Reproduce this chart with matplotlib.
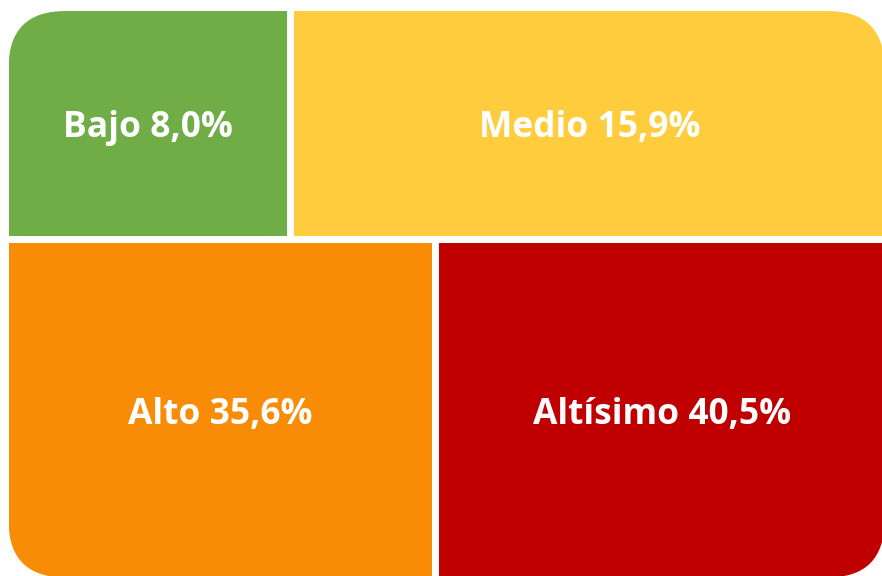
import matplotlib
matplotlib.use("Agg")
import matplotlib.pyplot as plt
from matplotlib.patches import Rectangle, FancyBboxPatch

# data
labels = ["Bajo", "Medio", "Alto", "Altísimo"]
values = [8.0, 15.9, 35.6, 40.5]
colors = ["#70AD47", "#FFCC3E", "#F88C07", "#C00000"]
rows = [[0, 1], [2, 3]]   # which categories sit in which row

# layout (pixels, figure is 882x576)
left, right, top, bottom = 8.5, 884.5, 11, 577.5
gap = 7
radius = 57
row_frac = [0.402, 0.598]          # share of height per row
col_frac = [[0.3205, 0.6795], [0.4873, 0.5127]]

fig = plt.figure(figsize=(8.82, 5.76), dpi=100)
ax = fig.add_axes([0, 0, 1, 1])
ax.set_xlim(0, 882)
ax.set_ylim(576, 0)
ax.axis("off")

outer = FancyBboxPatch((left, top), right - left, bottom - top,
                       boxstyle=f"round,pad=0,rounding_size={radius}",
                       facecolor="none", edgecolor="none")
ax.add_patch(outer)

H = bottom - top - gap * (len(rows) - 1)
y = top
for r, idx in enumerate(rows):
    h = H * row_frac[r]
    W = right - left - gap * (len(idx) - 1)
    x = left
    for c, i in enumerate(idx):
        w = W * col_frac[r][c]
        rect = Rectangle((x, y), w, h, facecolor=colors[i], edgecolor="none")
        ax.add_patch(rect)
        rect.set_clip_path(outer)
        txt = f"{labels[i]} {values[i]:.1f}%".replace(".", ",")
        ax.text(x + w / 2, y + h / 2 + 5, txt, ha="center", va="center",
                color="white", fontsize=25.5, fontweight="bold",
                family="Open Sans")
        x += w + gap
    y += h + gap

fig.savefig("out.png", dpi=100)
